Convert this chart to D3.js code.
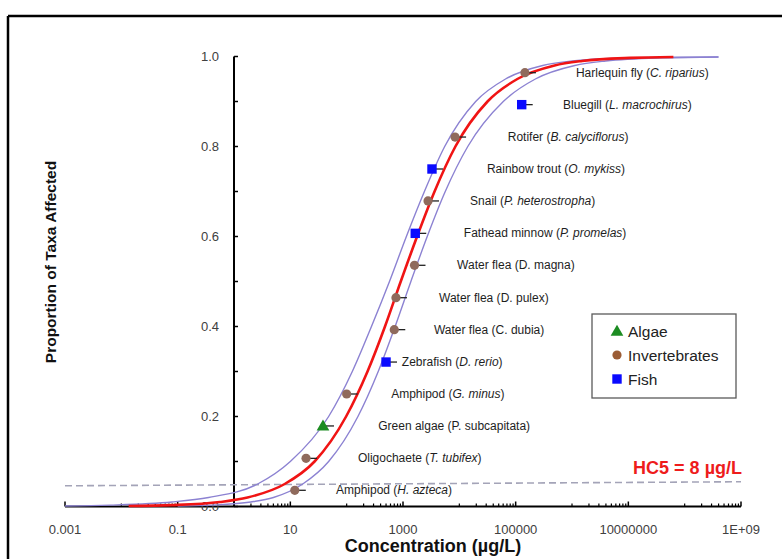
<!DOCTYPE html>
<html>
<head>
<meta charset="utf-8">
<script src="https://cdn.jsdelivr.net/npm/d3@7"></script>
<style>
  body { margin: 0; background: #fff; }
  text { font-family: "Liberation Sans", Arial, sans-serif; }
</style>
</head>
<body>
<script>
// species sensitivity distribution, 14 taxa

// axis ticks
const xTickVals = [1e-3, 1e-1, 1e1, 1e3, 1e5, 1e7, 1e9];
const xTickLabels = ["0.001", "0.1", "10", "1000", "100000", "10000000", "1E+09"];
const yTickVals = [0, 0.2, 0.4, 0.6, 0.8, 1.0];

// taxa, lowest to highest
const names = ["Amphipod", "Oligochaete", "Green algae", "Amphipod", "Zebrafish", "Water flea", "Water flea",
  "Water flea", "Fathead minnow", "Snail", "Rainbow trout", "Rotifer", "Bluegill", "Harlequin fly"];
const species = ["H. azteca", "T. tubifex", "P. subcapitata", "G. minus", "D. rerio", "C. dubia", "D. pulex",
  "D. magna", "P. promelas", "P. heterostropha", "O. mykiss", "B. calyciflorus", "L. macrochirus", "C. riparius"];
const italic = [1, 1, 0, 1, 1, 0, 0, 0, 1, 1, 1, 1, 1, 1];
const groups = ["Invertebrates", "Invertebrates", "Algae", "Invertebrates", "Fish", "Invertebrates", "Invertebrates",
  "Invertebrates", "Fish", "Invertebrates", "Fish", "Invertebrates", "Fish", "Invertebrates"];
const conc = [12, 19, 38, 100, 500, 700, 750, 1600, 1650, 2780, 3270, 8400, 128000, 146000]; // µg/L
const proportion = [0.036, 0.107, 0.179, 0.25, 0.321, 0.393, 0.464, 0.536, 0.607, 0.679, 0.75, 0.821, 0.893, 0.964];

// fitted curve + confidence bounds, log10(µg/L) read at these proportions
const pLevels = [0.001, 0.003, 0.01, 0.02, 0.05, 0.1, 0.2, 0.3, 0.4, 0.5, 0.6, 0.7, 0.8, 0.9, 0.95, 0.98, 0.99, 0.997, 0.999];
const fitLog   = [-1.87, -1.10, -0.25, 0.24, 0.90, 1.43, 1.99, 2.37, 2.68, 2.96, 3.25, 3.56, 3.93, 4.50, 5.03, 5.69, 6.18, 7.03, 7.80];
const upperLog = [-3.00, -2.20, -1.10, -0.45, 0.42, 1.00, 1.68, 2.10, 2.44, 2.76, 3.06, 3.38, 3.74, 4.29, 4.82, 5.48, 6.00, 6.95, 8.60];
const lowerLog = [-1.00, -0.40, 0.30, 0.70, 1.22, 1.68, 2.20, 2.56, 2.86, 3.14, 3.43, 3.75, 4.15, 4.78, 5.35, 6.05, 6.60, 7.60, 8.60];

// HC5 reference line (ends)
const hc5Conc = [1e-3, 1e9];
const hc5Prop = [0.046, 0.055];

// where each label starts (log10 µg/L)
const labelStartLog = [1.81, 2.20, 2.56, 2.79, 2.98, 3.55, 3.64, 3.96, 4.08, 4.19, 4.49, 4.86, 5.84, 6.07];

const legendItems = ["Algae", "Invertebrates", "Fish"];

const W = 782, H = 559;
const svg = d3.select("body").append("svg").attr("width", W).attr("height", H);

// frame (top + left visible)
svg.append("path").attr("d", "M8,16 H782 M8,16 V559")
  .attr("fill", "none").attr("stroke", "#000").attr("stroke-width", 2.5);

const x = d3.scaleLog().domain([1e-3, 1e9]).range([65, 741]);
const y = d3.scaleLinear().domain([0, 1]).range([506.5, 56.5]);
const yAxisX = x(1);

// x axis
svg.append("line").attr("x1", x(1e-3)).attr("x2", x(1e9)).attr("y1", y(0)).attr("y2", y(0))
  .attr("stroke", "#000").attr("stroke-width", 2);
const minorX = [];
xTickVals.slice(0, -1).forEach(v => { for (let m = 1; m <= 9; m++) minorX.push(v * 10 * m); });
svg.selectAll(".xminor").data(minorX).join("line")
  .attr("x1", d => x(d)).attr("x2", d => x(d)).attr("y1", y(0)).attr("y2", y(0) - 3)
  .attr("stroke", "#000").attr("stroke-width", 1.2);
svg.selectAll(".xmajor").data(xTickVals).join("line")
  .attr("x1", d => x(d)).attr("x2", d => x(d)).attr("y1", y(0)).attr("y2", y(0) - 5)
  .attr("stroke", "#000").attr("stroke-width", 1.5);
svg.selectAll(".xlab").data(xTickVals).join("text")
  .attr("x", d => x(d)).attr("y", y(0) + 27).attr("text-anchor", "middle")
  .attr("font-size", 13).attr("fill", "#404040")
  .text((d, i) => xTickLabels[i]);

// y axis
svg.append("line").attr("x1", yAxisX).attr("x2", yAxisX).attr("y1", y(0)).attr("y2", y(1))
  .attr("stroke", "#000").attr("stroke-width", 2);
svg.selectAll(".ytick").data(d3.range(0, 11).map(i => i / 10)).join("line")
  .attr("x1", yAxisX).attr("x2", yAxisX + 4).attr("y1", d => y(d)).attr("y2", d => y(d))
  .attr("stroke", "#000").attr("stroke-width", 1.5);
svg.selectAll(".ylab").data(yTickVals).join("text")
  .attr("x", yAxisX - 15).attr("y", d => y(d) + 4.5).attr("text-anchor", "end")
  .attr("font-size", 13).attr("fill", "#404040")
  .text(d => d.toFixed(1));

// axis titles
svg.append("text").attr("x", 433).attr("y", 552).attr("text-anchor", "middle")
  .attr("font-size", 18).attr("font-weight", "bold").attr("fill", "#111")
  .text("Concentration (µg/L)");
svg.append("text").attr("transform", "translate(56,262) rotate(-90)").attr("text-anchor", "middle")
  .attr("font-size", 15.5).attr("font-weight", "bold").attr("fill", "#111")
  .text("Proportion of Taxa Affected");

// HC5 dashed line + label
svg.append("line")
  .attr("x1", x(hc5Conc[0])).attr("y1", y(hc5Prop[0]))
  .attr("x2", x(hc5Conc[1])).attr("y2", y(hc5Prop[1]))
  .attr("stroke", "#a4a4b8").attr("stroke-width", 1.6).attr("stroke-dasharray", "7,4");
svg.append("text").attr("x", 742).attr("y", 474).attr("text-anchor", "end")
  .attr("font-size", 18).attr("font-weight", "bold").attr("fill", "#ee1c1c")
  .text("HC5 = 8 µg/L");

// curves
const line = d3.line().x(d => x(d[0])).y(d => y(d[1])).curve(d3.curveMonotoneX);
const toPts = arr => arr.map((v, i) => [Math.pow(10, v), pLevels[i]]);
[upperLog, lowerLog].forEach(arr => {
  svg.append("path").attr("d", line(toPts(arr)))
    .attr("fill", "none").attr("stroke", "#8c82d2").attr("stroke-width", 1.4);
});
svg.append("path").attr("d", line(toPts(fitLog)))
  .attr("fill", "none").attr("stroke", "#f01414").attr("stroke-width", 2.6);

// points
const pts = conc.map((c, i) => ({ c: c, p: proportion[i], g: groups[i] }));
svg.selectAll(".bar").data(pts).join("line")
  .attr("x1", d => x(d.c)).attr("x2", d => x(d.c) + 11)
  .attr("y1", d => y(d.p)).attr("y2", d => y(d.p))
  .attr("stroke", "#222").attr("stroke-width", 1.3);

function marker(sel, g, cx, cy, legend) {
  if (g === "Algae") {
    sel.append("path").attr("d", d3.symbol(d3.symbolTriangle, 70)())
      .attr("transform", `translate(${cx},${cy + 1})`).attr("fill", "#1c8c22");
  } else if (g === "Fish") {
    sel.append("rect").attr("x", cx - 4.7).attr("y", cy - 4.7).attr("width", 9.4).attr("height", 9.4)
      .attr("fill", "#0a0aff");
  } else {
    sel.append("circle").attr("cx", cx).attr("cy", cy).attr("r", 4.6)
      .attr("fill", legend ? "#9b5c35" : "#8f6a5c");
  }
}
pts.forEach(d => marker(svg, d.g, x(d.c), y(d.p), false));

// labels
names.forEach((n, i) => {
  const t = svg.append("text")
    .attr("x", x(Math.pow(10, labelStartLog[i]))).attr("y", y(proportion[i]) + 4)
    .attr("font-size", 12).attr("fill", "#1e1e1e");
  t.append("tspan").text(n + " (");
  t.append("tspan").attr("font-style", italic[i] ? "italic" : "normal").text(species[i]);
  t.append("tspan").text(")");
});

// legend
const lg = svg.append("g");
lg.append("rect").attr("x", 592).attr("y", 314).attr("width", 144).attr("height", 84)
  .attr("fill", "#fff").attr("stroke", "#5a5a5a").attr("stroke-width", 1.3);
legendItems.forEach((g, i) => {
  const cy = 331 + i * 24;
  marker(lg, g, 617, cy, true);
  lg.append("text").attr("x", 628).attr("y", cy + 5.5)
    .attr("font-size", 15.5).attr("fill", "#222").text(g);
});
</script>
</body>
</html>
